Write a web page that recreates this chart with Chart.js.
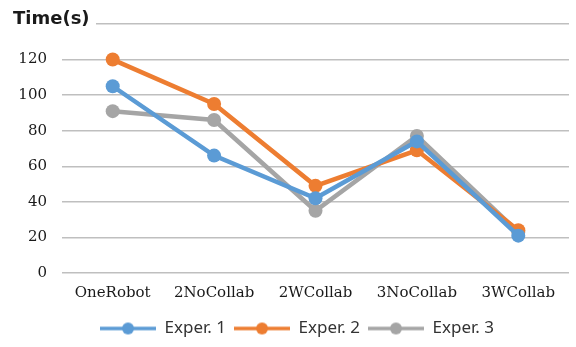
<!DOCTYPE html>
<html>
<head>
<meta charset="utf-8">
<script src="https://cdn.jsdelivr.net/npm/chart.js@4/dist/chart.umd.min.js"></script>
<style>
  html, body { margin: 0; padding: 0; background: #fff; }
  #wrap { width: 576px; height: 347px; }
</style>
</head>
<body>
<div id="wrap"><canvas id="chart" width="576" height="347"></canvas></div>
<script>
// data
const categories = ["OneRobot", "2NoCollab", "2WCollab", "3NoCollab", "3WCollab"];
const exper1 = [105, 66, 42, 74, 21];
const exper2 = [120, 95, 49, 69, 24];
const exper3 = [91, 86, 35, 77, 23];
const seriesNames = ["Exper. 1", "Exper. 2", "Exper. 3"];
const yTicks = [0, 20, 40, 60, 80, 100, 120, 140];
const axisTitle = "Time(s)";

const colors = ["#5b9bd5", "#ed7d31", "#a5a5a5"];

// legend marker: line with a dot in the middle
function legendMark(color) {
    const c = document.createElement("canvas");
    c.width = 56;
    c.height = 14;
    const g = c.getContext("2d");
    g.strokeStyle = color;
    g.lineWidth = 3.5;
    g.beginPath();
    g.moveTo(0, 7);
    g.lineTo(56, 7);
    g.stroke();
    g.fillStyle = color;
    g.beginPath();
    g.arc(28, 7, 6, 0, Math.PI * 2);
    g.fill();
    return c;
}
const legendMarks = colors.map(legendMark);

function makeSet(label, data, color) {
    return {
        label: label,
        data: data,
        borderColor: color,
        backgroundColor: color,
        borderWidth: 4.5,
        pointRadius: 7,
        pointBorderWidth: 0,
        pointBackgroundColor: color,
        pointStyle: "circle",
        tension: 0
    };
}

// title in the top left corner, sits on top of the 140 gridline
const cornerTitle = {
    id: "cornerTitle",
    afterLayout(chart) {
        // legend in the picture sits a bit right of centre
        chart.legend.left += 9;
        chart.legend.right += 9;
    },
    beforeDatasetsDraw(chart) {
        const ctx = chart.ctx;
        const y = chart.scales.y.getPixelForValue(140);
        ctx.save();
        ctx.fillStyle = "#fff";
        ctx.fillRect(0, y - 3, 96, 6);
        ctx.font = "bold 18px 'DejaVu Sans'";
        ctx.fillStyle = "#1a1a1a";
        ctx.textBaseline = "alphabetic";
        ctx.fillText(axisTitle, 13, y);
        ctx.restore();
    }
};

new Chart(document.getElementById("chart"), {
    type: "line",
    data: {
        labels: categories,
        datasets: [
            makeSet(seriesNames[0], exper1, colors[0]),
            makeSet(seriesNames[1], exper2, colors[1]),
            makeSet(seriesNames[2], exper3, colors[2])
        ]
    },
    plugins: [cornerTitle],
    options: {
        responsive: false,
        animation: false,
        layout: { padding: { top: 21, right: 0, bottom: 0, left: 0 } },
        scales: {
            x: {
                offset: true,
                grid: { display: false },
                border: { display: false },
                ticks: {
                    color: "#1a1a1a",
                    font: { family: "'DejaVu Serif'", size: 15 },
                    padding: 3,
                    maxRotation: 0
                },
                afterFit(scale) { scale.height = 39; }
            },
            y: {
                min: 0,
                max: 140,
                afterBuildTicks(scale) { scale.ticks = yTicks.map(v => ({ value: v })); },
                grid: { color: "#bfbfbf", lineWidth: 1.5, drawTicks: false },
                border: { display: false },
                ticks: {
                    color: "#1a1a1a",
                    font: { family: "'DejaVu Serif'", size: 15 },
                    padding: 15,
                    callback: v => (v === 140 ? "" : v)
                },
                afterFit(scale) { scale.width = 62; }
            }
        },
        plugins: {
            tooltip: { enabled: false },
            legend: {
                position: "bottom",
                labels: {
                    usePointStyle: true,
                    pointStyleWidth: 56,
                    padding: 8,
                    color: "#333",
                    font: { family: "'Noto Sans'", size: 17 },
                    generateLabels(chart) {
                        const items = Chart.defaults.plugins.legend.labels.generateLabels(chart);
                        items.forEach((it, i) => { it.pointStyle = legendMarks[i]; });
                        return items;
                    }
                }
            }
        }
    }
});
</script>
</body>
</html>
